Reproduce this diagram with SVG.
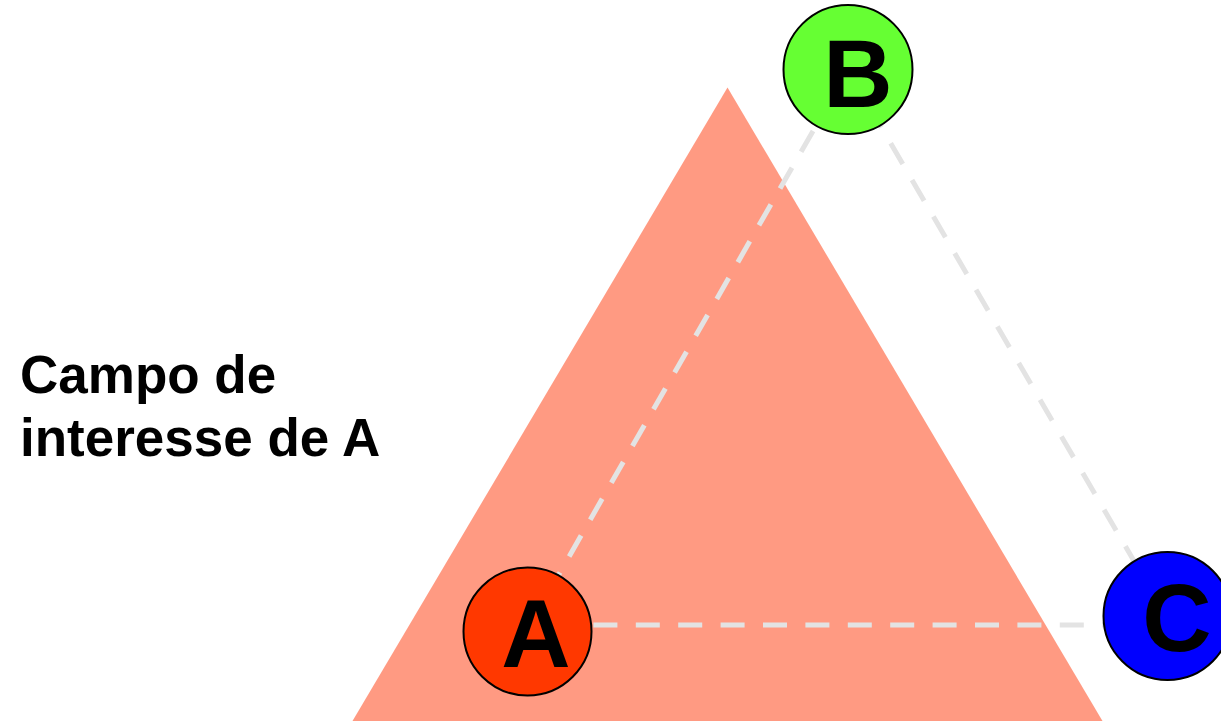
<svg xmlns="http://www.w3.org/2000/svg" width="1221" height="721" viewBox="0 0 1221 721">
  <style>
    .field { fill: #FF9A82; }
    .link { stroke: #E3E3E3; stroke-width: 5; stroke-dasharray: 24 18.4; fill: none; }
    .node { stroke: #000; stroke-width: 2; }
    .letter { font-family: "Liberation Sans", Arial, sans-serif; font-weight: bold; font-size: 96px; fill: #000; text-anchor: middle; }
    .label { font-family: "Liberation Sans", Arial, sans-serif; font-weight: bold; font-size: 53px; fill: #000; }
  </style>

  <rect width="1221" height="721" fill="#FFFFFF"/>

  <!-- field of interest of A -->
  <polygon id="field" class="field" points="727.5,87.5 1109,732 346,732"/>

  <!-- connectors -->
  <g id="connectors">
    <line class="link" x1="551" y1="625" x2="1104" y2="625"/>
    <line class="link" x1="527" y1="630" x2="848" y2="70"/>
    <line class="link" x1="848" y1="70" x2="1166" y2="616"/>
  </g>

  <g id="node-A">
    <circle class="node" cx="527.5" cy="631.5" r="64" fill="#FF3800"/>
    <text class="letter" x="536" y="667">A</text>
  </g>

  <g id="node-B">
    <circle class="node" cx="848" cy="69.5" r="64.5" fill="#66FF33"/>
    <text class="letter" x="858" y="107">B</text>
  </g>

  <g id="node-C">
    <circle class="node" cx="1167.5" cy="616" r="64" fill="#0000FF"/>
    <text class="letter" x="1177" y="651">C</text>
  </g>

  <g id="label">
    <text class="label" x="20" y="393">Campo de</text>
    <text class="label" x="20" y="456">interesse de A</text>
  </g>
</svg>
